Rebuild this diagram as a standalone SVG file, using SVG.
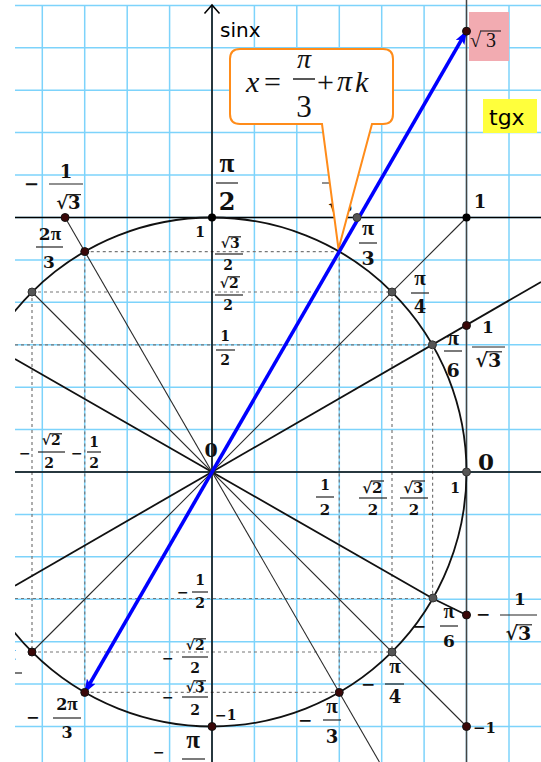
<svg xmlns="http://www.w3.org/2000/svg" width="541" height="762" viewBox="0 0 541 762">
<defs>
<style>
.grid line{stroke:#7dd3fb;stroke-width:1.5}
.ax{stroke:#000;stroke-width:1.5;fill:none}
.tg{stroke:#444;stroke-width:1.5;fill:none}
.ln{stroke:#2a2a2a;stroke-width:1.1;fill:none}
.lnb{stroke:#111;stroke-width:1.8;fill:none}
.dash{stroke:#777;stroke-width:1.2;stroke-dasharray:3 3;fill:none}
.dk{fill:#3a0808;stroke:#111;stroke-width:1}
.gr{fill:#555;stroke:#333;stroke-width:1}
.bk{fill:#000}
.m{font-family:"DejaVu Serif",serif;font-weight:bold;fill:#111}
.p{font-family:"Liberation Serif",serif;font-weight:bold}
.c{text-anchor:middle}
.e{text-anchor:end}
.bar{stroke:#222;stroke-width:1.2}
.sans{font-family:"DejaVu Sans",sans-serif;fill:#000}
.it{font-family:"Liberation Serif",serif;font-style:italic;fill:#111}
.rm{font-family:"Liberation Serif",serif;fill:#111}
</style>
<clipPath id="cp"><rect x="15" y="0" width="526" height="762"/></clipPath>
<marker id="ah" viewBox="0 0 14 10" refX="13" refY="5" markerWidth="14" markerHeight="10" markerUnits="userSpaceOnUse" orient="auto-start-reverse"><path d="M0,0 L14,5 L0,10 L3,5 Z" fill="#0000ff"/></marker>
</defs>
<rect width="541" height="762" fill="#fff"/>
<g clip-path="url(#cp)">
<g id="grid" class="grid">
<line x1="42.3" y1="5.4" x2="42.3" y2="762"/><line x1="84.7" y1="5.4" x2="84.7" y2="762"/><line x1="127.2" y1="5.4" x2="127.2" y2="762"/><line x1="169.6" y1="5.4" x2="169.6" y2="762"/><line x1="212" y1="5.4" x2="212" y2="762"/><line x1="254.4" y1="5.4" x2="254.4" y2="762"/><line x1="296.8" y1="5.4" x2="296.8" y2="762"/><line x1="339.3" y1="5.4" x2="339.3" y2="762"/><line x1="381.7" y1="5.4" x2="381.7" y2="762"/><line x1="424.1" y1="5.4" x2="424.1" y2="762"/><line x1="466.5" y1="5.4" x2="466.5" y2="762"/><line x1="509" y1="5.4" x2="509" y2="762"/>
<line x1="15" y1="5.4" x2="541" y2="5.4"/><line x1="15" y1="47.8" x2="541" y2="47.8"/><line x1="15" y1="90.2" x2="541" y2="90.2"/><line x1="15" y1="132.6" x2="541" y2="132.6"/><line x1="15" y1="175.1" x2="541" y2="175.1"/><line x1="15" y1="217.5" x2="541" y2="217.5"/><line x1="15" y1="259.9" x2="541" y2="259.9"/><line x1="15" y1="302.3" x2="541" y2="302.3"/><line x1="15" y1="344.7" x2="541" y2="344.7"/><line x1="15" y1="387.2" x2="541" y2="387.2"/><line x1="15" y1="429.6" x2="541" y2="429.6"/><line x1="15" y1="472" x2="541" y2="472"/><line x1="15" y1="514.4" x2="541" y2="514.4"/><line x1="15" y1="556.8" x2="541" y2="556.8"/><line x1="15" y1="599.3" x2="541" y2="599.3"/><line x1="15" y1="641.7" x2="541" y2="641.7"/><line x1="15" y1="684.1" x2="541" y2="684.1"/><line x1="15" y1="726.5" x2="541" y2="726.5"/>
</g>
<g id="projections" class="dash">
<line x1="84.75" y1="251.6" x2="339.25" y2="251.6"/><line x1="32" y1="292" x2="392" y2="292"/><line x1="15" y1="344.8" x2="432.4" y2="344.8"/><line x1="15" y1="598.5" x2="432.8" y2="598.5"/><line x1="32" y1="652" x2="392" y2="652"/><line x1="84.75" y1="692.4" x2="339.25" y2="692.4"/>
<line x1="84.75" y1="251.6" x2="84.75" y2="692.4"/><line x1="32" y1="292" x2="32" y2="652"/><line x1="339.25" y1="251.6" x2="339.25" y2="692.4"/><line x1="392" y1="292" x2="392" y2="652"/><line x1="432.6" y1="344.8" x2="432.6" y2="598.5"/>
</g>
<g id="connectors">
<line class="ax" x1="15" y1="472" x2="541" y2="472"/>
<line class="ax" x1="15" y1="217.5" x2="541" y2="217.5"/>
<line class="ax" x1="212" y1="5" x2="212" y2="762"/>
<polyline class="ax" points="204.5,13.5 212,5 219.5,13.5"/>
<line class="tg" x1="466.5" y1="0" x2="466.5" y2="762"/>
<polyline class="lnb" points="15,359 212,472 432.8,598.5 466.5,615"/>
<line class="lnb" x1="15" y1="585.7" x2="541" y2="282"/>
<line class="ln" x1="32" y1="652" x2="466.5" y2="217.5"/>
<line class="ln" x1="32" y1="292" x2="466.5" y2="726.5"/>
<line class="ln" x1="65.1" y1="217.5" x2="379.4" y2="762"/>
<line class="ln" x1="84.75" y1="692.4" x2="466.5" y2="31.2"/>
<circle cx="212" cy="472" r="254.5" fill="none" stroke="#111" stroke-width="1.8"/>
</g>
</g>
<g id="labels-math">
<text class="m" x="24" y="190" font-size="18">−</text>
<text class="m c" x="66" y="178" font-size="18">1</text>
<line class="bar" x1="49" y1="184" x2="83" y2="184"/>
<text class="m e" x="68" y="209" font-size="18">√</text><text class="m" x="68" y="209" font-size="18">3</text><line class="bar" x1="67" y1="194.6" x2="81" y2="194.6"/>
<text class="m c" x="50" y="240" font-size="17">2<tspan class="p" font-size="19">π</tspan></text>
<line class="bar" x1="36" y1="247" x2="63" y2="247"/>
<text class="m c" x="49" y="268" font-size="17">3</text>
<text class="m p c" x="227" y="172" font-size="27">π</text>
<line class="bar" x1="216" y1="183" x2="238" y2="183"/>
<text class="m c" x="227" y="210" font-size="24">2</text>
<text class="m c" x="200" y="237" font-size="14">1</text>
<text class="m e" x="230" y="248" font-size="14">√</text><text class="m" x="230" y="248" font-size="14">3</text><line class="bar" x1="229" y1="236.8" x2="241" y2="236.8"/>
<line class="bar" x1="215" y1="254" x2="243" y2="254"/>
<text class="m c" x="228" y="270" font-size="14">2</text>
<text class="m e" x="229" y="288" font-size="14">√</text><text class="m" x="229" y="288" font-size="14">2</text><line class="bar" x1="228" y1="276.8" x2="240" y2="276.8"/>
<line class="bar" x1="215" y1="295" x2="243" y2="295"/>
<text class="m c" x="228" y="310" font-size="14">2</text>
<text class="m c" x="225" y="341" font-size="14">1</text>
<line class="bar" x1="216" y1="350" x2="235" y2="350"/>
<text class="m c" x="225" y="365" font-size="14">2</text>
<text class="m c" x="340" y="178" font-size="18">1</text>
<line class="bar" x1="322" y1="183" x2="357" y2="183"/>
<text class="m e" x="340" y="212" font-size="18">√</text><text class="m" x="340" y="212" font-size="18">3</text><line class="bar" x1="339" y1="197.6" x2="353" y2="197.6"/>
<text class="m c" x="480" y="208" font-size="18">1</text>
<text class="m p c" x="368" y="235" font-size="22">π</text>
<line class="bar" x1="359" y1="243" x2="377" y2="243"/>
<text class="m c" x="368" y="265" font-size="19">3</text>
<text class="m p c" x="420" y="285" font-size="21">π</text>
<line class="bar" x1="411" y1="293" x2="429" y2="293"/>
<text class="m c" x="420" y="313" font-size="18">4</text>
<text class="m p c" x="453" y="345" font-size="22">π</text>
<line class="bar" x1="444" y1="351" x2="462" y2="351"/>
<text class="m c" x="453" y="377" font-size="19">6</text>
<text class="m c" x="488" y="333" font-size="17">1</text>
<line class="bar" x1="472" y1="347" x2="505" y2="347"/>
<text class="m e" x="488" y="367" font-size="19">√</text><text class="m" x="488" y="367" font-size="19">3</text><line class="bar" x1="487" y1="351.8" x2="502" y2="351.8"/>
<text class="m c" x="486" y="470" font-size="23">0</text>
<text class="m c" x="455" y="493" font-size="14">1</text>
<text class="m c" x="211" y="457" font-size="19">0</text>
<text class="m c" x="325" y="490" font-size="14">1</text>
<line class="bar" x1="316" y1="497" x2="334" y2="497"/>
<text class="m c" x="325" y="515" font-size="15">2</text>
<text class="m e" x="372" y="493" font-size="15">√</text><text class="m" x="372" y="493" font-size="15">2</text><line class="bar" x1="371" y1="481" x2="384" y2="481"/>
<line class="bar" x1="359" y1="498" x2="387" y2="498"/>
<text class="m c" x="373" y="515" font-size="15">2</text>
<text class="m e" x="413" y="493" font-size="15">√</text><text class="m" x="413" y="493" font-size="15">3</text><line class="bar" x1="412" y1="481" x2="425" y2="481"/>
<line class="bar" x1="400" y1="498" x2="428" y2="498"/>
<text class="m c" x="414" y="515" font-size="15">2</text>
<text class="m" x="19" y="458" font-size="14">−</text>
<text class="m e" x="51" y="445" font-size="14">√</text><text class="m" x="51" y="445" font-size="14">2</text><line class="bar" x1="50" y1="433.8" x2="62" y2="433.8"/>
<line class="bar" x1="38" y1="452" x2="65" y2="452"/>
<text class="m c" x="49" y="468" font-size="14">2</text>
<text class="m" x="71" y="458" font-size="14">−</text>
<text class="m c" x="94" y="447" font-size="14">1</text>
<line class="bar" x1="87" y1="452" x2="101" y2="452"/>
<text class="m c" x="94" y="468" font-size="14">2</text>
<text class="m" x="177" y="597" font-size="14">−</text>
<text class="m c" x="200" y="585" font-size="14">1</text>
<line class="bar" x1="192" y1="592" x2="208" y2="592"/>
<text class="m c" x="200" y="608" font-size="14">2</text>
<text class="m" x="162" y="663" font-size="14">−</text>
<text class="m e" x="195" y="650" font-size="14">√</text><text class="m" x="195" y="650" font-size="14">2</text><line class="bar" x1="194" y1="638.8" x2="206" y2="638.8"/>
<line class="bar" x1="182" y1="657" x2="208" y2="657"/>
<text class="m c" x="195" y="673" font-size="14">2</text>
<text class="m" x="162" y="702" font-size="14">−</text>
<text class="m e" x="195" y="692" font-size="14">√</text><text class="m" x="195" y="692" font-size="14">3</text><line class="bar" x1="194" y1="680.8" x2="206" y2="680.8"/>
<line class="bar" x1="182" y1="697" x2="208" y2="697"/>
<text class="m c" x="195" y="715" font-size="14">2</text>
<text class="m" x="215" y="720" font-size="14">−1</text>
<text class="m" x="153" y="757" font-size="14">−</text>
<text class="m p c" x="193" y="748" font-size="25">π</text>
<line class="bar" x1="182" y1="759" x2="205" y2="759"/>
<text class="m" x="298" y="726" font-size="17">−</text>
<text class="m p c" x="332" y="713" font-size="21">π</text>
<line class="bar" x1="323" y1="720" x2="341" y2="720"/>
<text class="m c" x="332" y="743" font-size="18">3</text>
<text class="m" x="361" y="690" font-size="17">−</text>
<text class="m p c" x="395" y="673" font-size="21">π</text>
<line class="bar" x1="385" y1="684" x2="404" y2="684"/>
<text class="m c" x="395" y="703" font-size="18">4</text>
<text class="m" x="412" y="632" font-size="17">−</text>
<text class="m p c" x="449" y="618" font-size="20">π</text>
<line class="bar" x1="440" y1="626" x2="458" y2="626"/>
<text class="m c" x="449" y="647" font-size="17">6</text>
<text class="m" x="26" y="723" font-size="16">−</text>
<text class="m c" x="67" y="710" font-size="16">2<tspan class="p" font-size="19">π</tspan></text>
<line class="bar" x1="53" y1="718" x2="81" y2="718"/>
<text class="m c" x="67" y="738" font-size="16">3</text>
<text class="m" x="476" y="620" font-size="17">−</text>
<text class="m c" x="520" y="605" font-size="17">1</text>
<line class="bar" x1="500" y1="615" x2="537" y2="615"/>
<text class="m e" x="518" y="640" font-size="19">√</text><text class="m" x="518" y="640" font-size="19">3</text><line class="bar" x1="517" y1="624.8" x2="532" y2="624.8"/>
<text class="m" x="473" y="733" font-size="15">−1</text>
<g clip-path="url(#cp)">
<text class="m p c" x="10" y="660" font-size="20">π</text>
<line class="bar" x1="0" y1="673" x2="22" y2="673"/>
</g>
</g>
<g id="axis-labels">
<text class="sans" x="220" y="37" font-size="20">sinx</text>
<rect x="483" y="99" width="54" height="34" fill="#ffff3c"/>
<text class="sans" x="489" y="125" font-size="22">tgx</text>
<rect x="469" y="12" width="40" height="49" fill="#f2abb1"/>
<text class="rm" x="470" y="47" font-size="20">√</text><text class="rm" x="486" y="47" font-size="20">3</text><line x1="480" y1="31" x2="501" y2="31" stroke="#111" stroke-width="1"/>
</g>
<g id="callout">
<path d="M240,49 H383 Q393,49 393,59 V114 Q393,124 383,124 H372 L338.5,249 L322,124 H240 Q230,124 230,114 V59 Q230,49 240,49 Z" fill="#fff" stroke="#ff8c1a" stroke-width="2"/>
<text class="it" x="246" y="92" font-size="30">x</text>
<text class="rm" x="264" y="92" font-size="30">=</text>
<text class="it c" x="304" y="68" font-size="28">π</text>
<line x1="293" y1="79" x2="315" y2="79" stroke="#111" stroke-width="1.4"/>
<text class="rm c" x="304" y="117" font-size="31">3</text>
<text class="rm" x="317" y="92" font-size="30">+</text>
<text class="it" x="337" y="91" font-size="30">π</text>
<text class="it" x="355" y="92" font-size="30">k</text>
</g>
<g id="vector">
<line x1="84.75" y1="692.4" x2="466.5" y2="31.2" stroke="#0000ff" stroke-width="3.6" marker-start="url(#ah)" marker-end="url(#ah)"/>
</g>
<g id="points">
<circle class="dk" cx="466.5" cy="31.2" r="4"/>
<circle class="bk" cx="466.5" cy="217.5" r="4"/>
<circle class="dk" cx="466.5" cy="325.5" r="4"/>
<circle class="gr" cx="466.5" cy="472" r="4"/>
<circle class="dk" cx="466.5" cy="615" r="4"/>
<circle class="dk" cx="466.5" cy="726.5" r="4"/>
<circle class="dk" cx="65.1" cy="217.5" r="4"/>
<circle class="gr" cx="357" cy="217.5" r="4"/>
<circle class="bk" cx="212" cy="217.5" r="4"/>
<circle class="gr" cx="392" cy="292" r="4"/>
<circle class="gr" cx="432.4" cy="344.8" r="4"/>
<circle class="dk" cx="84.75" cy="251.6" r="4"/>
<circle class="gr" cx="32" cy="292" r="4"/>
<circle class="gr" cx="433" cy="598" r="4"/>
<circle class="gr" cx="392" cy="652" r="4"/>
<circle class="dk" cx="339.25" cy="692.4" r="4"/>
<circle class="dk" cx="212" cy="726.5" r="4"/>
<circle class="dk" cx="84.75" cy="692.4" r="4"/>
<circle class="dk" cx="32" cy="652" r="4"/>
</g>
</svg>
